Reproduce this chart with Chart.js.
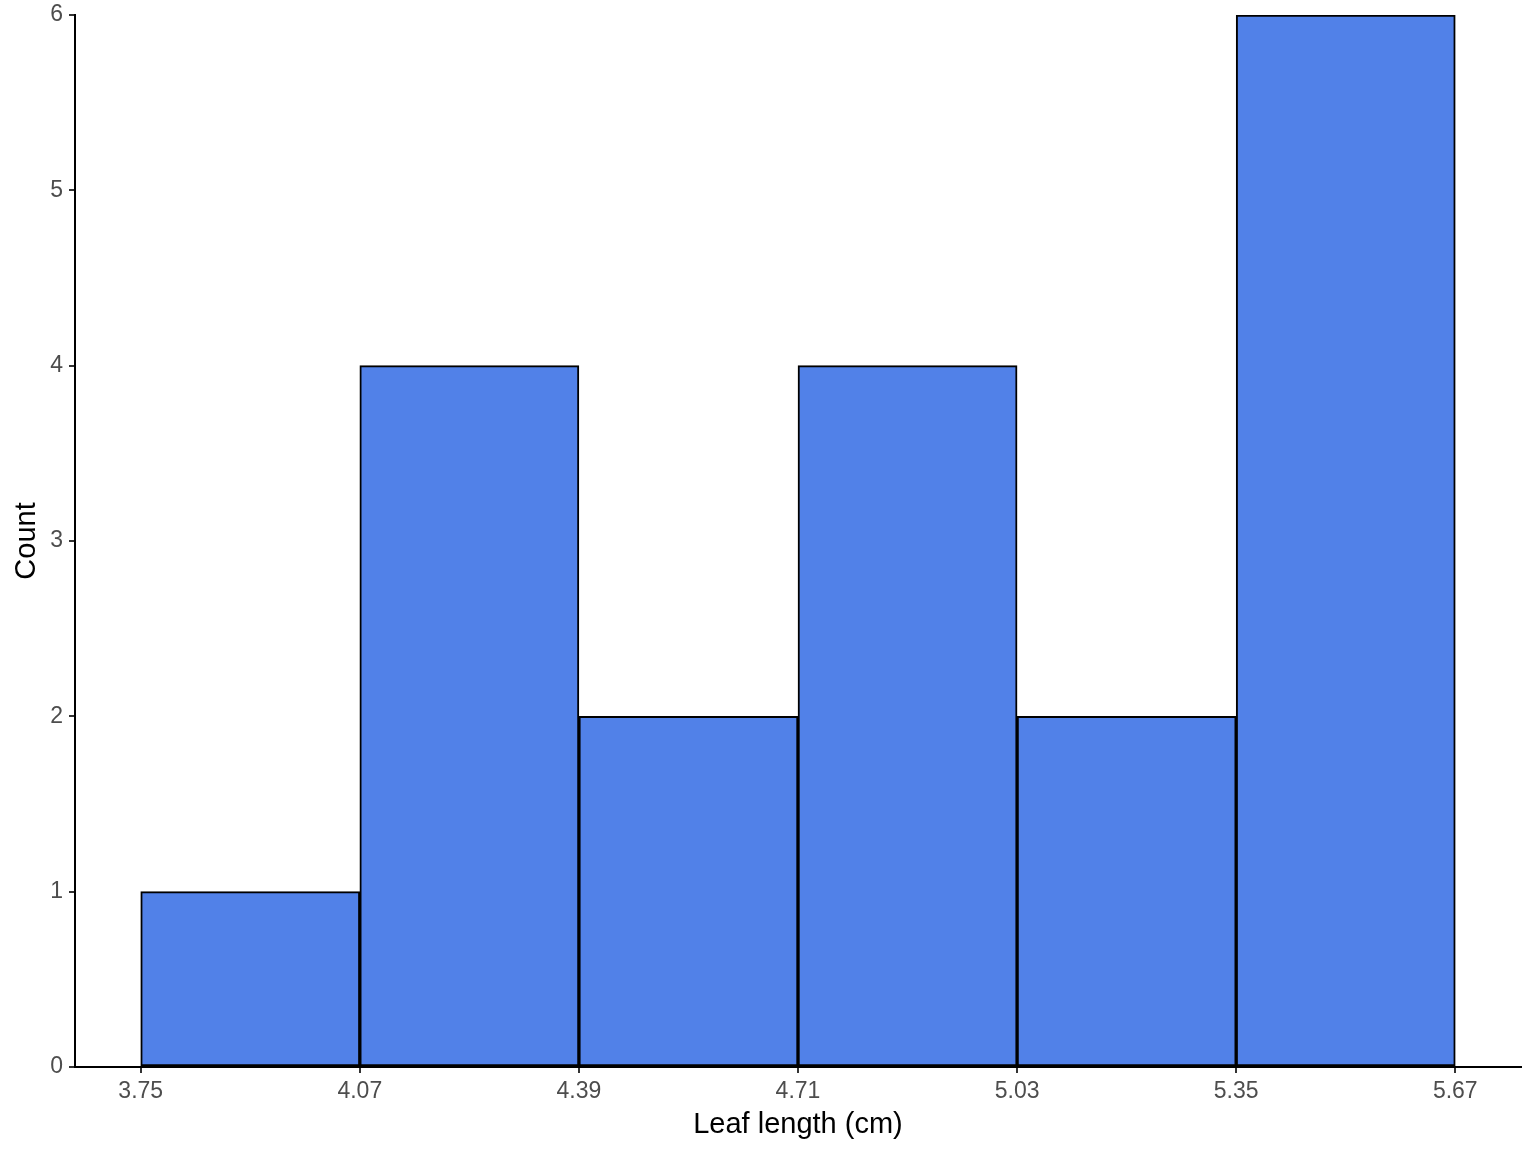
<!DOCTYPE html>
<html><head><meta charset="utf-8">
<script src="https://cdn.jsdelivr.net/npm/chart.js@4"></script>
<style>html,body{margin:0;padding:0;background:#fff}canvas{display:block}</style>
</head><body>
<canvas id="c" width="1536" height="1152"></canvas>
<script>
const binEdges = [3.75, 4.07, 4.39, 4.71, 5.03, 5.35, 5.67];
const counts = [1, 4, 2, 4, 2, 6];
const yTicks = [0, 1, 2, 3, 4, 5, 6];

const centers = counts.map((c, i) => ({x: (binEdges[i] + binEdges[i+1]) / 2, y: c}));
const span = binEdges[binEdges.length-1] - binEdges[0];
const xMin = binEdges[0] - span * 0.05, xMax = binEdges[binEdges.length-1] + span * 0.05;
const font = "'Liberation Sans', Arial, sans-serif";

new Chart(document.getElementById('c'), {
  type: 'bar',
  data: { datasets: [{ data: centers, backgroundColor: '#5181E8', borderColor: '#000', borderWidth: 2,
    barPercentage: 1, categoryPercentage: 1, borderSkipped: false }] },
  options: {
    responsive: false, animation: false, devicePixelRatio: 1,
    layout: { padding: { top: 15, right: 15, left: 0, bottom: 0 } },
    plugins: { legend: { display: false }, tooltip: { enabled: false } },
    scales: {
      x: {
        type: 'linear', min: xMin, max: xMax, offset: false,
        afterBuildTicks: s => { s.ticks = binEdges.map(v => ({value: v})); },
        afterFit: s => { s.height = 85; s.paddingLeft = 0; s.paddingRight = 0; },
        grid: { offset: false, drawOnChartArea: false, drawTicks: true, tickLength: 6, color: '#333', lineWidth: 2 },
        border: { display: true, color: '#000', width: 2 },
        ticks: { color: '#4d4d4d', font: { family: font, size: 23 }, padding: 5, maxRotation: 0, autoSkip: false,
          callback: v => Number(v).toFixed(2) },
        title: { display: true, text: 'Leaf length (cm)', color: '#000', font: { family: font, size: 29 }, padding: { top: 0, bottom: 10 } }
      },
      y: {
        min: 0, max: 6,
        afterBuildTicks: s => { s.ticks = yTicks.map(v => ({value: v})); },
        afterFit: s => { s.width = 75; s.paddingTop = 0; s.paddingBottom = 0; },
        grid: { drawOnChartArea: false, drawTicks: true, tickLength: 6, color: '#333', lineWidth: 2 },
        border: { display: true, color: '#000', width: 2 },
        ticks: { color: '#4d4d4d', font: { family: font, size: 23 }, padding: 6 },
        title: { display: true, text: 'Count', color: '#000', font: { family: font, size: 29 }, padding: { top: 10, bottom: 0 } }
      }
    }
  }
});
</script>
</body></html>
